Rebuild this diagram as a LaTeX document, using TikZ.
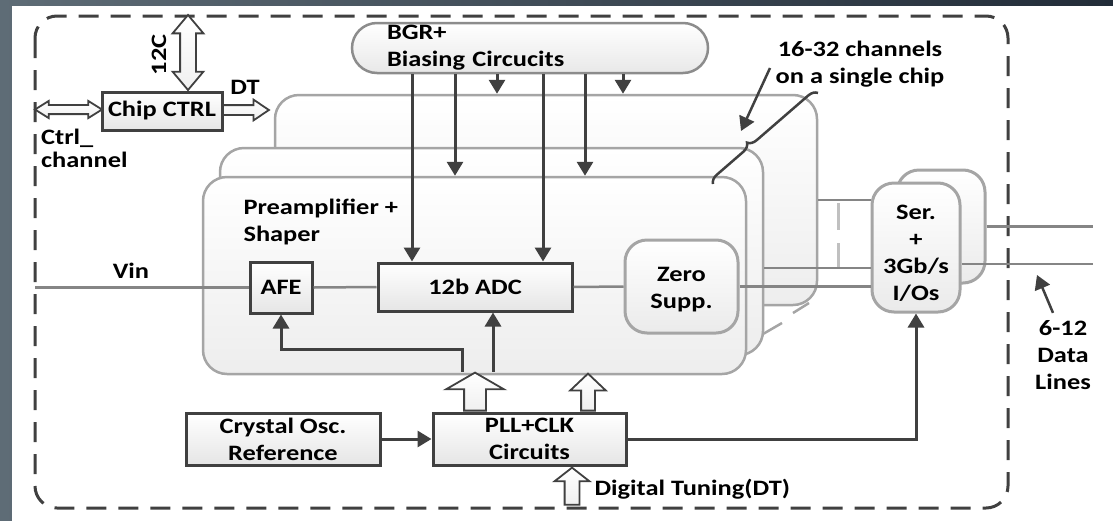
\documentclass[tikz,border=0pt]{standalone}
\usepackage{fontspec}
\setmainfont{Carlito}[FakeStretch=1.2]
\usetikzlibrary{arrows.meta,calc,positioning,shapes.arrows,decorations.pathreplacing}
\definecolor{ink}{HTML}{404040}
\definecolor{rim}{HTML}{A5A5A5}
\definecolor{wire}{HTML}{858585}
\definecolor{slateL}{HTML}{5E6C76}
\definecolor{slateR}{HTML}{222C38}
\tikzset{
  chipedge/.style={draw=ink,line width=3pt,dash pattern=on 20pt off 12pt,rounded corners=22pt},
  card/.style={draw=rim,line width=2.5pt,top color=white,bottom color=black!7,rounded corners=24pt,inner sep=0pt},
  blk/.style={draw=ink,line width=3pt,top color=white,bottom color=black!10,inner sep=0pt,align=center},
  rblk/.style={draw=rim,line width=3pt,top color=white,bottom color=black!8,rounded corners=22pt,inner sep=0pt,align=center},
  pill/.style={draw=rim!85!black,line width=2.5pt,top color=white,bottom color=black!9,rounded corners=25pt,
    inner xsep=35pt,inner ysep=0pt,text width=286pt,align=left},
  sig/.style={draw=ink,line width=3pt},
  sigarr/.style={sig,-{Triangle[length=14pt,width=16pt]}},
  wireln/.style={draw=wire,line width=2.5pt},
  hollow/.style={draw=ink,line width=1.8pt,top color=white,bottom color=black!6},
  every node/.style={font=\bfseries\fontsize{22}{27}\selectfont}
}
\begin{document}
\begin{tikzpicture}[x=1pt,y=-1pt]
\useasboundingbox (0,0) rectangle (1113,520);
\fill[left color=slateL,right color=slateR] (0,0) rectangle (1113,520);
\fill[white] (12,6) rectangle (1125,532);
\draw[chipedge] (35,16) rectangle (1008,508);

% chip control
\node[blk,minimum width=120,minimum height=38] (ctrl) at (162,111) {Chip CTRL};
\node[double arrow,hollow,minimum height=75,inner sep=7pt,double arrow head extend=7.5pt,
  double arrow tip angle=80,shape border rotate=90] (i2c) at (188,52.5) {};
\node[rotate=90] (i2clbl) at (159,55) {12C};
\node[double arrow,hollow,minimum height=67,inner sep=3.7pt,double arrow head extend=4pt,
  double arrow tip angle=64] (ctrlch) at (68.5,109.5) {};
\node[inner sep=0pt,align=left,anchor=north west,font=\bfseries\fontsize{22}{23}\selectfont] (ctrllbl) at (41,129) {Ctrl\_\\channel};
\node[single arrow,hollow,minimum height=46,inner sep=4pt,single arrow head extend=5.5pt,
  single arrow tip angle=68,anchor=tail] (dtout) at (222,110) {};
\node (dtlbl) at (245,87) {DT};

% bias and channel cards
\node[pill,minimum height=50] (bgr) at (530,48) {BGR+\\Biasing Circucits};
\node[card,minimum width=542,minimum height=210] (back) at (546,200) {};
\node[card,minimum width=543,minimum height=207] (mid) at (491.5,251.5) {};
\node[card,minimum width=543,minimum height=197] (front) at (474.5,275.5) {};
\draw[draw=rim,line width=2.5pt] (793,313) -- (809,303);
\draw[draw=rim,line width=2.5pt] (763,334) -- (782,323);
\node[align=left,anchor=west] (prelbl) at (240,221.5) {Preamplifier +\\Shaper};

\node[blk,minimum width=62,minimum height=51] (afe) at (281,287.5) {AFE};
\node[blk,minimum width=194,minimum height=48] (adc) at (475,287) {12b ADC};
\node[rblk,minimum width=113,minimum height=93,
  label={[align=center,yshift=-3pt]center:Zero\\Supp.}] (zs) at (681.5,286.5) {};

% serializers
\node[rblk,minimum width=88,minimum height=113] (serb) at (941,226.5) {};
\node[rblk,minimum width=88,minimum height=129,
  label={[align=center,yshift=-6pt]center:Ser.\\+\\3Gb/s\\I/Os}] (ser) at (916,247.5) {};

% clocking
\node[blk,minimum width=194,minimum height=52] (xtal) at (283,439) {Crystal Osc.\\Reference};
\node[blk,minimum width=193,minimum height=52] (pll) at (529.5,439) {PLL+CLK\\Circuits};
\node[single arrow,hollow,minimum height=38,inner sep=10pt,single arrow head extend=18pt,
  single arrow tip angle=120,shape border rotate=90,anchor=tail] (clkafe) at ($(pll.north)+(-54.5,0)$) {};
\node[single arrow,hollow,minimum height=37,inner sep=6pt,single arrow head extend=11pt,
  single arrow tip angle=93,shape border rotate=90,anchor=tail] (clkzs) at ($(pll.north)+(58.5,0)$) {};
\node[single arrow,hollow,minimum height=37,inner sep=6.5pt,single arrow head extend=10pt,
  single arrow tip angle=104,shape border rotate=90,anchor=tip] (dtin) at ($(pll.south)+(42.5,0)$) {};
\node[anchor=west] (tunelbl) at (591,489) {Digital Tuning(DT)};

% columns and free ends
\foreach \n/\x in {b1/412,b2/455,b3/497,b4/543,b5/585,b6/623,c1/462,c2/493,dl/1093}
  \coordinate (\n) at (\x,0);
\coordinate (vin0) at (35,287.5);
\coordinate (ch2) at ($(mid.east)+(0,16.5)$);
\coordinate (dl2) at (1093,264);
\coordinate (fb) at ($(afe.south)+(0,35)$);
\coordinate (chpt) at (770,68);
\coordinate (bracetip) at (741,131);
\coordinate (dlpt) at (1037,275);

% bias lines
\foreach \c/\t in {b1/adc,b2/front,b3/back,b4/adc,b5/front,b6/back}
  \draw[sigarr] (bgr.south -| \c) -- (\t.north -| \c);

% signal path
\draw[wireln] (vin0) -- (afe.west);
\node (vinlbl) at (131,271) {Vin};
\draw[wireln] (afe.east) -- (adc.west);
\draw[wireln] (adc.east) -- (zs.west);
\draw[wireln] (zs.east) -- (zs.east -| ser.west);
\draw[wireln] (back.east) -- (back.east -| ser.west);
\draw[wireln] (ch2) -- (ch2 -| ser.west);
\draw[draw=rim!70,line width=3pt,dash pattern=on 27pt off 13pt] (838,203) -- (838,267);
\draw[wireln] (serb.east) -- (serb.east -| dl);
\draw[wireln] (ser.east |- dl2) -- (dl2);

% clock lines
\draw[sigarr] (xtal) -- (pll);
\draw[sigarr] (pll.east) -| (ser.south);
\draw[sigarr] (clkafe.tip -| c1) |- (fb) -- (afe.south);
\draw[sigarr] (clkafe.tip -| c2) -- (adc.south -| c2);

% annotations
\node[align=center] (chlbl) at (860,64) {16-32 channels\\on a single chip};
\draw[sig,line width=2.5pt,decorate,decoration={brace,amplitude=9pt,aspect=0.38}] (713,184) -- (818,93);
\draw[sigarr,line width=2.5pt] (chpt) -- (bracetip);
\node[align=center] (dllbl) at (1063,355) {6-12\\Data\\Lines};
\draw[sigarr,line width=2.5pt] ($(dllbl.north)+(-10,-4)$) -- (dlpt);
\end{tikzpicture}
\end{document}
